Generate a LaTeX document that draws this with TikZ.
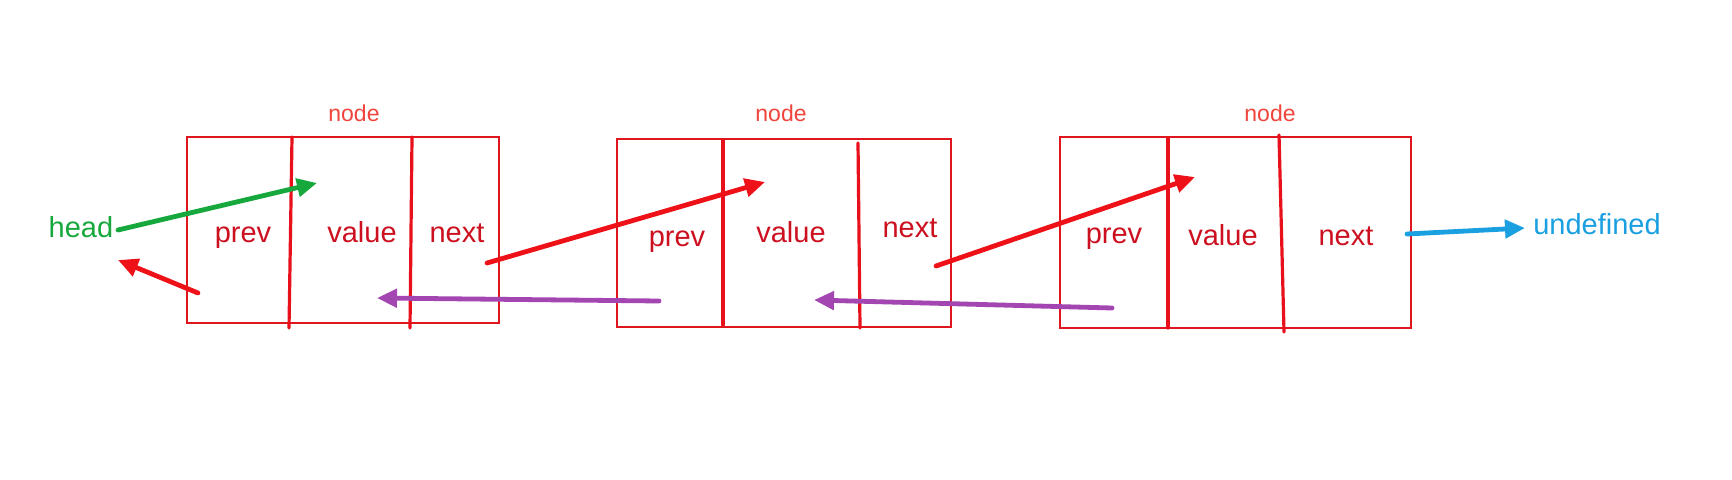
\documentclass[tikz,border=0pt]{standalone}
\usepackage{fontspec}
\setmainfont{Liberation Sans}
\usetikzlibrary{arrows.meta}
\definecolor{boxred}{HTML}{E0161E}
\definecolor{divred}{HTML}{E8101A}
\definecolor{txtred}{HTML}{CC1020}
\definecolor{lblred}{HTML}{F0443C}
\definecolor{arrred}{HTML}{EE1118}
\definecolor{hgreen}{HTML}{16A83C}
\definecolor{ublue}{HTML}{1AA0E0}
\definecolor{ppurple}{HTML}{A446B2}
\begin{document}
\begin{tikzpicture}[x=0.5pt,y=-0.5pt,
  listbox/.style={draw=boxred, line width=0.9pt, inner sep=0pt, outer sep=0pt},
  divider/.style={draw=divred, line width=1.6pt, line cap=round},
  celltext/.style={text=txtred, font=\fontsize{14.5}{17}\selectfont, anchor=base, inner sep=0pt},
  lbl/.style={text=lblred, font=\fontsize{11.5}{14}\selectfont, anchor=base, inner sep=0pt},
  sidetext/.style={font=\fontsize{14.5}{17}\selectfont, anchor=base, inner sep=0pt},
  ptr/.style={line width=2.4pt, line cap=round, -{Triangle[length=10pt,width=9pt]}}
]
\useasboundingbox (0,0) rectangle (1732,480);
\fill[white] (0,0) rectangle (1732,480);

% boxes
\node[listbox, minimum width=156pt, minimum height=93pt] (n1) at (343,230) {};
\node[listbox, minimum width=167pt, minimum height=94pt] (n2) at (784,233) {};
\node[listbox, minimum width=175.5pt, minimum height=95.5pt] (n3) at (1235.5,232.5) {};

% dividers
\draw[divider] (292,137) -- (289,328);
\draw[divider] (412,137) -- (410,328);
\draw[divider] (723,140) -- (723,325);
\draw[divider] (858,143) -- (860,328);
\draw[divider] (1168,138) -- (1168,328);
\draw[divider] (1279,135) -- (1284,332);

% labels
\node[lbl] (l1) at (354,122) {node};
\node[lbl] (l2) at (781,122) {node};
\node[lbl] (l3) at (1270,122) {node};

\node[celltext] (p1) at (243,243) {prev};
\node[celltext] (v1) at (362,243) {value};
\node[celltext] (x1) at (457,243) {next};
\node[celltext] (p2) at (677,247) {prev};
\node[celltext] (v2) at (791,243) {value};
\node[celltext] (x2) at (910,238) {next};
\node[celltext] (p3) at (1114,244) {prev};
\node[celltext] (v3) at (1223,246) {value};
\node[celltext] (x3) at (1346,246) {next};

\node[sidetext, text=hgreen] (head) at (81,238) {head};
\node[sidetext, text=ublue] (undef) at (1597,235) {undefined};

% arrow end points
\coordinate (hs) at (118,230);
\coordinate (ht) at (317,183);
\coordinate (b1s) at (198,293);
\coordinate (b1t) at (118,260);
\coordinate (f1s) at (487,263);
\coordinate (f1t) at (765,182);
\coordinate (f2s) at (936,266);
\coordinate (f2t) at (1195,177);
\coordinate (b2s) at (659,301);
\coordinate (b2t) at (377,298);
\coordinate (b3s) at (1112,308);
\coordinate (b3t) at (814,300);
\coordinate (us) at (1407,234);
\coordinate (ut) at (1525,228);

% connectors
\draw[ptr, hgreen] (hs) -- (ht);
\draw[ptr, arrred] (b1s) -- (b1t);
\draw[ptr, arrred] (f1s) -- (f1t);
\draw[ptr, arrred] (f2s) -- (f2t);
\draw[ptr, ppurple] (b2s) -- (b2t);
\draw[ptr, ppurple] (b3s) -- (b3t);
\draw[ptr, ublue] (us) -- (ut);
\end{tikzpicture}
\end{document}
